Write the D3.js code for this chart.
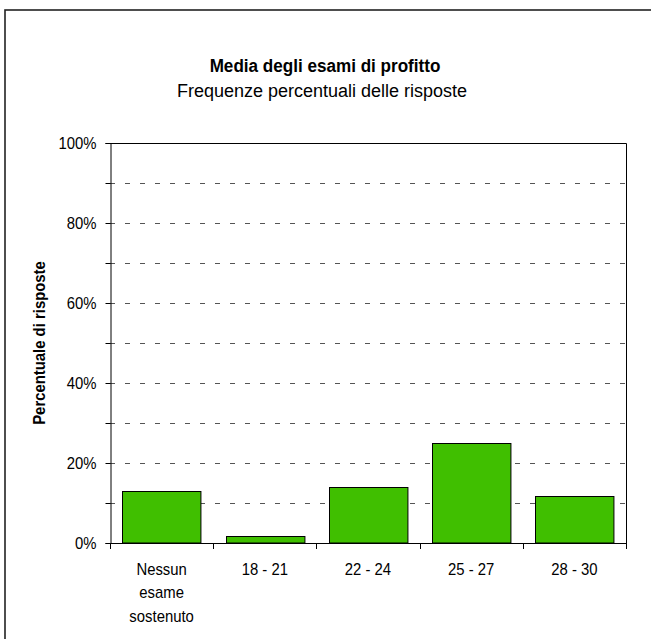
<!DOCTYPE html>
<html>
<head>
<meta charset="utf-8">
<script src="https://cdn.jsdelivr.net/npm/d3@7"></script>
<style>
  html, body { margin: 0; padding: 0; background: #fff; }
  svg { display: block; font-family: "Liberation Sans", Arial, Helvetica, sans-serif; }
</style>
</head>
<body>
<svg id="chart" width="651" height="639"></svg>
<script>
const categories = [["Nessun", "esame", "sostenuto"], ["18 - 21"], ["22 - 24"], ["25 - 27"], ["28 - 30"]];
const values = [13.0, 1.75, 13.9, 24.9, 11.8];
const yTicks = [0, 20, 40, 60, 80, 100];
const gridValues = [10, 20, 30, 40, 50, 60, 70, 80, 90];
const title = "Media degli esami di profitto";
const subtitle = "Frequenze percentuali delle risposte";
const yTitle = "Percentuale di risposte";

const svg = d3.select("#chart");
const plot = { left: 110, right: 626, top: 143, bottom: 543 };

// outer frame
svg.append("rect").attr("x", 5).attr("y", 10).attr("width", 700).attr("height", 700)
  .attr("fill", "none").attr("stroke", "#222").attr("stroke-width", 1.6);

const keys = categories.map((c, i) => i);
const x = d3.scaleBand().domain(keys).range([plot.left, plot.right])
  .paddingInner(0.24).paddingOuter(0.12);
const y = d3.scaleLinear().domain([0, 100]).range([plot.bottom, plot.top]);

// gridlines
svg.append("g").selectAll("line").data(gridValues).join("line")
  .attr("x1", plot.left).attr("x2", plot.right)
  .attr("y1", d => Math.round(y(d)) + 0.5).attr("y2", d => Math.round(y(d)) + 0.5)
  .attr("stroke", "#555").attr("stroke-width", 1).attr("stroke-dasharray", "5,10");

// plot border top/right
svg.append("path")
  .attr("d", `M${plot.left},${plot.top + 0.5}H${plot.right + 0.5}V${plot.bottom}`)
  .attr("fill", "none").attr("stroke", "#000").attr("stroke-width", 1);

// bars
svg.append("g").selectAll("rect").data(values).join("rect")
  .attr("x", (d, i) => Math.round(x(i)) + 0.5)
  .attr("y", d => Math.round(y(d)) + 0.5)
  .attr("width", x.bandwidth())
  .attr("height", d => y(0) - Math.round(y(d)) - 0.5)
  .attr("fill", "#40bf00").attr("stroke", "#000").attr("stroke-width", 1);

// y axis
const yAxis = d3.axisLeft(y).tickValues(d3.range(0, 101, 10)).tickSize(5)
  .tickFormat(d => yTicks.includes(d) ? d + "%" : "");
const gy = svg.append("g").attr("transform", `translate(${plot.left + 0.5},0)`).call(yAxis);
gy.select(".domain").attr("stroke", "#000");
gy.selectAll(".tick line").attr("stroke", "#000");
gy.selectAll(".tick text").attr("font-size", 16).attr("fill", "#000").attr("x", 0)
  .attr("transform", "translate(-14,0) scale(0.93,1)")
  .attr("font-family", "'Liberation Sans', Arial, sans-serif");

// x axis
const step = x.step();
const bounds = d3.range(categories.length + 1).map(i => plot.left + i * step);
svg.append("line").attr("x1", plot.left).attr("x2", plot.right + 1)
  .attr("y1", plot.bottom + 0.5).attr("y2", plot.bottom + 0.5).attr("stroke", "#000");
svg.append("g").selectAll("line").data(bounds).join("line")
  .attr("x1", d => Math.round(d) + 0.5).attr("x2", d => Math.round(d) + 0.5)
  .attr("y1", plot.bottom).attr("y2", plot.bottom + 6).attr("stroke", "#000");

const xl = svg.append("g").selectAll("text").data(categories).join("text")
  .attr("transform", (d, i) => `translate(${x(i) + x.bandwidth() / 2},575) scale(0.93,1)`)
  .attr("text-anchor", "middle").attr("font-size", 16).attr("fill", "#000");
xl.selectAll("tspan").data(d => d).join("tspan")
  .attr("x", 0)
  .attr("dy", (d, i) => i === 0 ? 0 : 23.5)
  .text(d => d);

// titles
svg.append("text").attr("transform", "translate(325,72) scale(0.9,1)").attr("text-anchor", "middle")
  .attr("font-size", 19).attr("font-weight", "bold").text(title);
svg.append("text").attr("x", 322).attr("y", 96.5).attr("text-anchor", "middle")
  .attr("font-size", 18).text(subtitle);

svg.append("text").attr("transform", `translate(45,${(plot.top + plot.bottom) / 2}) rotate(-90) scale(0.93,1)`)
  .attr("text-anchor", "middle").attr("font-size", 16).attr("font-weight", "bold")
  .text(yTitle);
</script>
</body>
</html>
